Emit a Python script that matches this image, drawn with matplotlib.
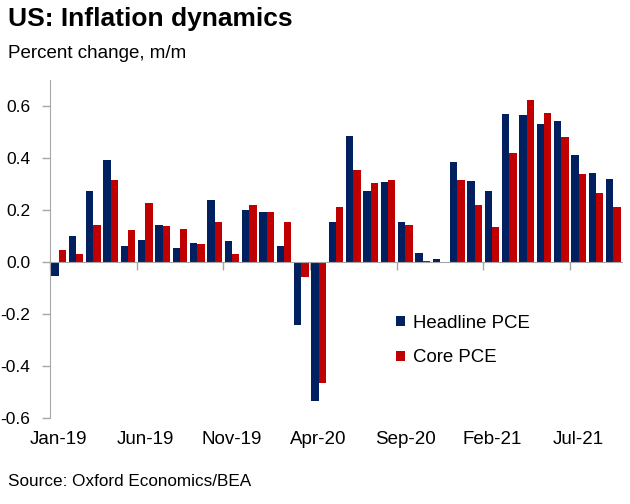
import numpy as np
import matplotlib
matplotlib.use("Agg")
import matplotlib.pyplot as plt
from matplotlib.transforms import blended_transform_factory

plt.rcParams['font.family'] = ['Liberation Sans', 'DejaVu Sans']

# monthly data, Jan-19 .. Sep-21
months = ['Jan-19', 'Feb-19', 'Mar-19', 'Apr-19', 'May-19', 'Jun-19', 'Jul-19', 'Aug-19',
          'Sep-19', 'Oct-19', 'Nov-19', 'Dec-19', 'Jan-20', 'Feb-20', 'Mar-20', 'Apr-20',
          'May-20', 'Jun-20', 'Jul-20', 'Aug-20', 'Sep-20', 'Oct-20', 'Nov-20', 'Dec-20',
          'Jan-21', 'Feb-21', 'Mar-21', 'Apr-21', 'May-21', 'Jun-21', 'Jul-21', 'Aug-21',
          'Sep-21']
headline = [-0.055, 0.099, 0.273, 0.391, 0.063, 0.085, 0.142, 0.054, 0.073, 0.240, 0.082,
            0.199, 0.194, 0.063, -0.244, -0.534, 0.155, 0.485, 0.273, 0.308, 0.155, 0.035,
            0.013, 0.386, 0.312, 0.273, 0.569, 0.567, 0.531, 0.541, 0.412, 0.341, 0.319]
core = [0.047, 0.032, 0.142, 0.317, 0.123, 0.227, 0.137, 0.126, 0.071, 0.155, 0.032,
        0.221, 0.191, 0.155, -0.058, -0.466, 0.210, 0.355, 0.305, 0.317, 0.142, 0.004,
        -0.003, 0.317, 0.221, 0.133, 0.421, 0.623, 0.574, 0.481, 0.338, 0.264, 0.210]

navy = '#002060'
red = '#C00000'
grey = '#A6A6A6'

fig = plt.figure(figsize=(6.3, 5.04), dpi=100)
ax = fig.add_axes([50/630, 1-418/504, 572/630, 338/504])

x = np.arange(len(months))
w = 0.42
ax.bar(x - w/2, headline, width=w, color=navy, label='Headline PCE', zorder=2)
ax.bar(x + w/2, core, width=w, color=red, label='Core PCE', zorder=2)

ax.set_xlim(-0.5, len(months) - 0.5)
ax.set_ylim(-0.6, 0.7)
yt = np.arange(-0.6, 0.61, 0.2)
ax.set_yticks(yt)
ax.set_yticklabels(['%.1f' % v for v in yt], fontsize=12.5)
ax.tick_params(axis='y', length=6, width=1, color=grey, pad=8)

for s in ['top', 'right']:
    ax.spines[s].set_visible(False)
ax.spines['left'].set_color(grey)
ax.spines['bottom'].set_color(grey)
ax.spines['bottom'].set_position(('data', 0))
ax.spines['bottom'].set_zorder(3)

# tick marks at month boundaries, labels at the bottom of the plot
ax.set_xticks(np.arange(-0.5, len(months), 5))
ax.set_xticklabels([])
ax.tick_params(axis='x', length=6, width=1, color=grey)
trans = blended_transform_factory(ax.transData, ax.transAxes)
for i in range(0, len(months), 5):
    ax.text(i, -0.065, months[i], transform=trans, ha='center', va='center', fontsize=13.5)

leg = ax.legend(loc='upper left', bbox_to_anchor=(0.575, 0.355), frameon=False, fontsize=13.4,
                handlelength=0.5, handleheight=0.5, handletextpad=0.45, labelspacing=0.95)

fig.text(8/630, 1-19/504, 'US: Inflation dynamics', fontsize=19, fontweight='bold',
         va='center', ha='left')
fig.text(8/630, 1-53/504, 'Percent change, m/m', fontsize=13.5, va='center', ha='left')
fig.text(8/630, 1-482/504, 'Source: Oxford Economics/BEA', fontsize=12.3, va='center', ha='left')

fig.savefig('out.png', dpi=100)
